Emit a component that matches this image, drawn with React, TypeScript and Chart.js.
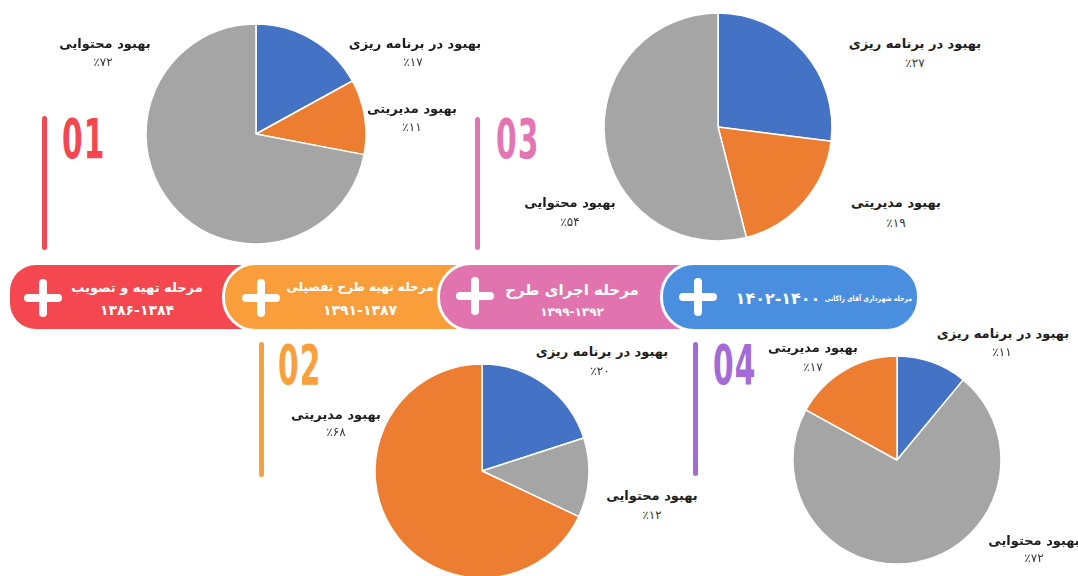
import React, { useEffect, useRef } from 'react';
import { Chart, registerables } from 'chart.js';
Chart.register(...registerables);

// ---- data ----
const categories = ['بهبود در برنامه ریزی', 'بهبود مدیریتی', 'بهبود محتوایی'];
const categoryColors = ['#4472C4', '#ED7D31', '#A5A5A5'];
const phase1Values = [17, 11, 72];
const phase2Values = [20, 68, 12];
const phase3Values = [27, 19, 54];
const phase4Values = [11, 17, 72];
// clockwise slice order (indices into categories)
const phase1Order = [0, 1, 2];
const phase2Order = [0, 2, 1];
const phase3Order = [0, 1, 2];
const phase4Order = [0, 2, 1];
const phaseTitles = ['مرحله تهیه و تصویب', 'مرحله تهیه طرح تفصیلی', 'مرحله اجرای طرح', 'مرحله شهرداری آقای زاکانی'];
const phaseRanges = ['۱۳۸۶-۱۳۸۴', '۱۳۹۱-۱۳۸۷', '۱۳۹۹-۱۳۹۲', '۱۴۰۲-۱۴۰۰'];
const phaseNumbers = ['01', '02', '03', '04'];

const FA = '۰۱۲۳۴۵۶۷۸۹';
const fa = (n: number) => String(n).replace(/\d/g, (d) => FA[+d]);
const FONT = '"DejaVu Sans", sans-serif';

type LabelPos = { x: number; y: number; px: number; py: number };

function Pie(props: { values: number[]; order: number[]; cx: number; cy: number; r: number; labels: LabelPos[] }) {
  const ref = useRef<HTMLCanvasElement | null>(null);
  const { values, order, cx, cy, r, labels } = props;
  const S = Math.ceil(2 * r + 6);
  useEffect(() => {
    if (!ref.current) return;
    const chart = new Chart(ref.current, {
      type: 'pie',
      data: {
        labels: order.map((i) => categories[i]),
        datasets: [
          {
            data: order.map((i) => values[i]),
            backgroundColor: order.map((i) => categoryColors[i]),
            borderColor: '#ffffff',
            borderWidth: 1.5,
            hoverOffset: 0,
            offset: 0,
            radius: r,
          } as any,
        ],
      },
      options: {
        responsive: false,
        animation: false,
        events: [],
        layout: { padding: 0 },
        plugins: { legend: { display: false }, tooltip: { enabled: false } },
      },
    });
    return () => chart.destroy();
  }, []);
  return (
    <>
      <canvas
        ref={ref}
        width={S}
        height={S}
        style={{ position: 'absolute', left: cx - S / 2, top: cy - S / 2, width: S, height: S }}
      />
      {labels.map((p, k) => (
        <React.Fragment key={k}>
          <div
            style={{
              position: 'absolute', left: p.x, top: p.y, transform: 'translate(-50%,-50%)',
              whiteSpace: 'nowrap', font: `bold 13px ${FONT}`, color: '#1e1e1e', direction: 'rtl',
            }}
          >
            {categories[k]}
          </div>
          <div
            style={{
              position: 'absolute', left: p.px, top: p.py, transform: 'translate(-50%,-50%)',
              whiteSpace: 'nowrap', font: `12px ${FONT}`, color: '#333', direction: 'ltr', unicodeBidi: 'bidi-override',
            }}
          >
            {'٪' + fa(values[k])}
          </div>
        </React.Fragment>
      ))}
    </>
  );
}

function Plus(props: { cx: number; cy: number }) {
  const { cx, cy } = props;
  const L = 38, T = 8;
  return (
    <>
      <div style={{ position: 'absolute', left: cx - L / 2, top: cy - T / 2, width: L, height: T, background: '#fff', borderRadius: T / 2 }} />
      <div style={{ position: 'absolute', left: cx - T / 2, top: cy - L / 2, width: T, height: L, background: '#fff', borderRadius: T / 2 }} />
    </>
  );
}

function NumMark(props: { x: number; y: number; lineX: number; y1: number; y2: number; color: string; text: string }) {
  const { x, y, lineX, y1, y2, color, text } = props;
  return (
    <>
      <div style={{ position: 'absolute', left: lineX - 2.5, top: y1, width: 5, height: y2 - y1, background: color, borderRadius: 3 }} />
      <div
        style={{
          position: 'absolute', left: x, top: y - 7, font: `bold 56px ${FONT}`, lineHeight: 1, color,
          transform: 'scaleX(0.53)', transformOrigin: 'left top', whiteSpace: 'nowrap', letterSpacing: 2,
        }}
      >
        {text}
      </div>
    </>
  );
}

export default function App() {
  useEffect(() => {
    document.body.style.margin = '0';
    document.body.style.overflow = 'hidden';
  }, []);

  const segs = [
    { left: 10, width: 250, color: '#F4474F', radius: '26px 0 0 26px', border: false },
    { left: 225, width: 250, color: '#F99E3A', radius: '34px 0 0 34px', border: true },
    { left: 440, width: 250, color: '#E174AE', radius: '34px 0 0 34px', border: true },
    { left: 663, width: 260, color: '#4A8FDF', radius: '34px', border: true },
  ];
  const top = 265, h = 64, bw = 3;

  return (
    <div style={{ position: 'relative', width: 1078, height: 576, overflow: 'hidden', background: '#fff' }}>
      {/* banner */}
      {segs.map((s, i) => (
        <div
          key={i}
          style={{
            position: 'absolute',
            left: s.border ? s.left - bw : s.left,
            top: s.border ? top - bw : top,
            width: s.width,
            height: s.border ? h + 2 * bw : h,
            boxSizing: 'border-box',
            background: s.color,
            border: s.border ? `${bw}px solid #fff` : 'none',
            borderRadius: s.radius,
          }}
        />
      ))}
      <Plus cx={43} cy={298} />
      <Plus cx={261} cy={298} />
      <Plus cx={475} cy={296} />
      <Plus cx={698} cy={297} />
      {[
        { t: phaseTitles[0], r: phaseRanges[0], x: 137, ty: 287, ry: 310, ts: 13, rs: 14 },
        { t: phaseTitles[1], r: phaseRanges[1], x: 360, ty: 287, ry: 310, ts: 12, rs: 14 },
        { t: phaseTitles[2], r: phaseRanges[2], x: 572, ty: 290, ry: 312, ts: 15, rs: 12 },
      ].map((b, i) => (
        <React.Fragment key={i}>
          <div style={{ position: 'absolute', left: b.x, top: b.ty, transform: 'translate(-50%,-50%)', whiteSpace: 'nowrap', font: `bold ${b.ts}px ${FONT}`, color: '#fff', direction: 'rtl' }}>{b.t}</div>
          <div style={{ position: 'absolute', left: b.x, top: b.ry, transform: 'translate(-50%,-50%)', whiteSpace: 'nowrap', font: `bold ${b.rs}px ${FONT}`, color: '#fff', direction: 'ltr', unicodeBidi: 'bidi-override' }}>{b.r}</div>
        </React.Fragment>
      ))}
      <div style={{ position: 'absolute', left: 912, top: 298, transform: 'translate(-100%,-50%) scaleX(0.82)', transformOrigin: 'right center', whiteSpace: 'nowrap', font: `bold 7.5px ${FONT}`, color: '#fff', direction: 'rtl' }}>{phaseTitles[3]}</div>
      <div style={{ position: 'absolute', left: 778, top: 298, transform: 'translate(-50%,-50%)', whiteSpace: 'nowrap', font: `bold 16px ${FONT}`, color: '#fff', direction: 'ltr', unicodeBidi: 'bidi-override', letterSpacing: 1 }}>{phaseRanges[3]}</div>

      {/* phase numbers and lines */}
      <NumMark x={62} y={118} lineX={44} y1={116} y2={250} color="#F4474F" text={phaseNumbers[0]} />
      <NumMark x={278} y={344} lineX={261} y1={342} y2={477} color="#F9A03D" text={phaseNumbers[1]} />
      <NumMark x={496} y={118} lineX={477} y1={117} y2={250} color="#E575B2" text={phaseNumbers[2]} />
      <NumMark x={713} y={344} lineX={695} y1={342} y2={476} color="#A36AD8" text={phaseNumbers[3]} />

      {/* pies */}
      <Pie
        values={phase1Values}
        order={phase1Order}
        cx={256}
        cy={134}
        r={110}
        labels={[
          { x: 415, y: 43, px: 413, py: 62 },
          { x: 412, y: 108, px: 412, py: 127 },
          { x: 105, y: 43, px: 103, py: 62 },
        ]}
      />
      <Pie
        values={phase3Values}
        order={phase3Order}
        cx={718}
        cy={127}
        r={114}
        labels={[
          { x: 915, y: 43, px: 915, py: 63 },
          { x: 896, y: 202, px: 896, py: 223 },
          { x: 570, y: 202, px: 570, py: 222 },
        ]}
      />
      <Pie
        values={phase2Values}
        order={phase2Order}
        cx={482}
        cy={471}
        r={107}
        labels={[
          { x: 602, y: 351, px: 600, py: 371 },
          { x: 336, y: 414, px: 336, py: 432 },
          { x: 652, y: 495, px: 652, py: 515 },
        ]}
      />
      <Pie
        values={phase4Values}
        order={phase4Order}
        cx={897}
        cy={460}
        r={104}
        labels={[
          { x: 1003, y: 333, px: 1002, py: 352 },
          { x: 813, y: 347, px: 813, py: 367 },
          { x: 1034, y: 540, px: 1034, py: 558 },
        ]}
      />
    </div>
  );
}
